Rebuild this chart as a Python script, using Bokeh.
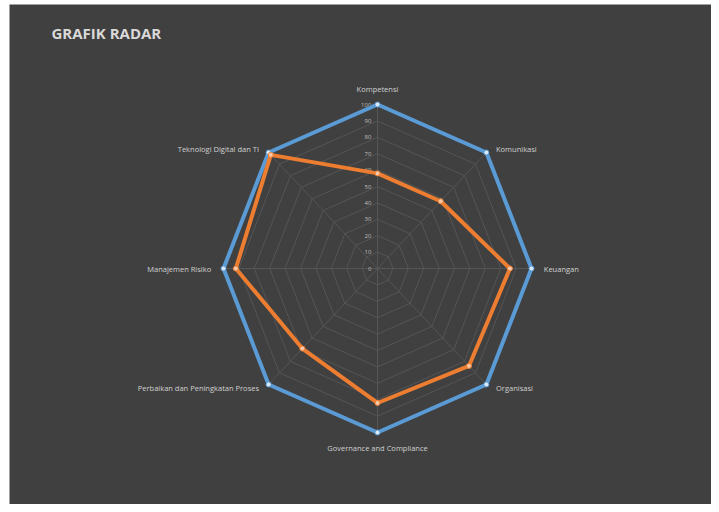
import numpy as np
from bokeh.plotting import figure
from bokeh.models import ColumnDataSource
from bokeh.core.properties import value
from bokeh.embed import file_html
from bokeh.resources import INLINE

categories = ["Kompetensi", "Komunikasi", "Keuangan", "Organisasi",
              "Governance and Compliance", "Perbaikan dan Peningkatan Proses",
              "Manajemen Risiko", "Teknologi Digital dan TI"]
target = [100, 100, 100, 100, 100, 100, 100, 100]
actual = [58, 58, 86, 84, 82, 69, 92, 98]
ticks = [0, 10, 20, 30, 40, 50, 60, 70, 80, 90, 100]

BG = "#404040"
W, H = 711, 504
ML, MT = 9, 4
FW, FH = W - ML, H - MT
cx_px, cy_px = 368, 264   # centre inside the frame
sx, sy = 1.54, 1.64

p = figure(width=W, height=H, output_backend="svg", toolbar_location=None,
           x_range=(-cx_px / sx, (FW - cx_px) / sx),
           y_range=(-(FH - cy_px) / sy, cy_px / sy),
           min_border=0, min_border_left=ML, min_border_top=MT,
           background_fill_color=BG, border_fill_color="white",
           outline_line_color=None)
p.axis.visible = False
p.grid.visible = False

n = len(categories)
ang = np.pi / 2 - np.arange(n) * 2 * np.pi / n

# grid polygons and spokes
for t in ticks[1:]:
    xs = list(t * np.cos(ang)) + [t * np.cos(ang[0])]
    ys = list(t * np.sin(ang)) + [t * np.sin(ang[0])]
    p.line(xs, ys, line_color="#555555", line_width=1)
for a in ang:
    p.line([0, 100 * np.cos(a)], [0, 100 * np.sin(a)], line_color="#555555", line_width=1)

# tick labels
p.text(x=[-4] * len(ticks), y=ticks, text=[str(t) for t in ticks],
       text_font=value("Open Sans"), text_font_size="6px", text_color="#bfbfbf",
       text_align="right", text_baseline="middle")

def series(vals, color, mk):
    xs = [v * np.cos(a) for v, a in zip(vals, ang)]
    ys = [v * np.sin(a) for v, a in zip(vals, ang)]
    p.line(xs + [xs[0]], ys + [ys[0]], line_color=color, line_width=4, line_join="round")
    p.scatter(xs, ys, size=5, fill_color=mk, line_color=color, line_width=1)

series(target, "#5B9BD5", "#dbe8f5")
series(actual, "#ED7D31", "#f7c9a8")

# category labels
lr = 106
lx, ly, al = [], [], []
for c, a in zip(categories, ang):
    ca, sa = np.cos(a), np.sin(a)
    lx.append(lr * ca + (2 if abs(ca) > 0.1 else 0) * np.sign(ca))
    ly.append(lr * sa * (1.03 if abs(ca) < 0.1 else 0.97))
    if abs(ca) < 0.1:
        al.append("center")
    elif ca > 0:
        al.append("left")
    else:
        al.append("right")
src = ColumnDataSource(dict(x=lx, y=ly, t=categories, a=al))
p.text(x="x", y="y", text="t", text_align="a", text_baseline="middle", source=src,
       text_font=value("Open Sans"), text_font_size="7.5px", text_color="#d0d0d0")

# title positioned in data units from its pixel place in the frame
tx = (51 - ML - cx_px) / sx
ty = (cy_px - (32 - MT)) / sy
p.text(x=[tx], y=[ty], text=["GRAFIK RADAR"], text_font=value("Open Sans"),
       text_font_size="15px", text_font_style="bold", text_color="#d9d9d9",
       text_baseline="middle", text_align="left")

open("out.html", "w").write(file_html(p, INLINE))
